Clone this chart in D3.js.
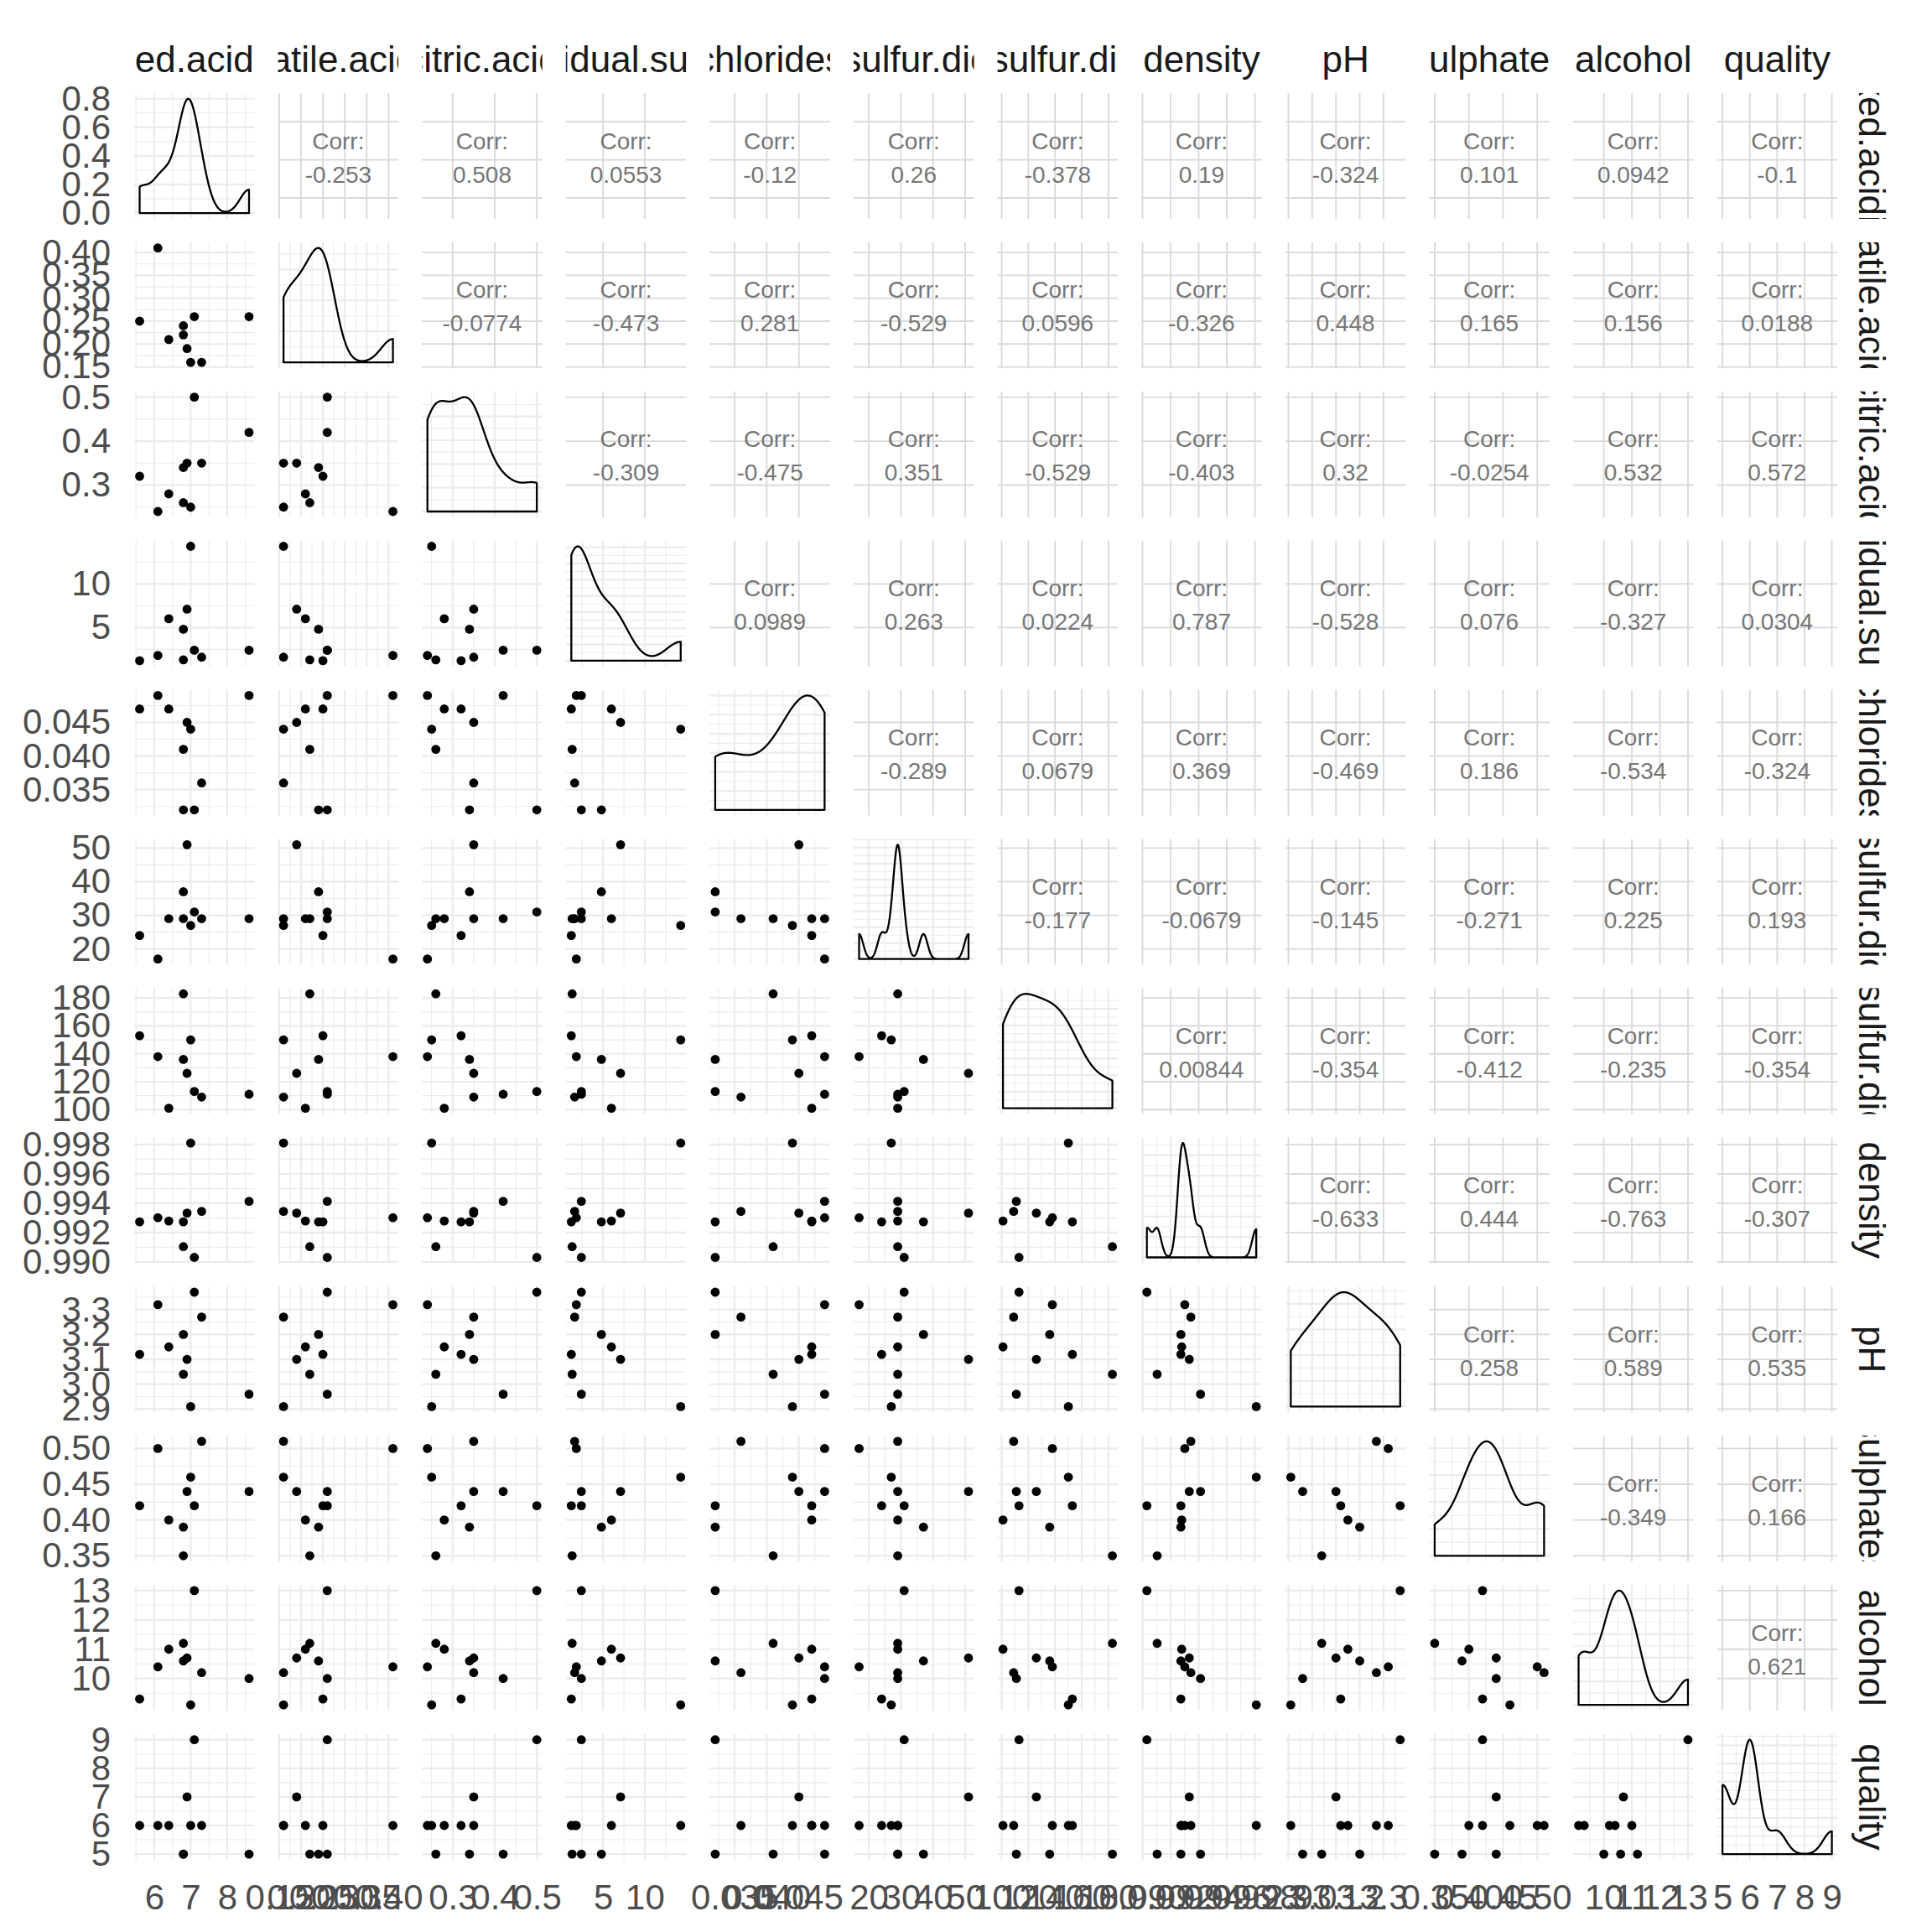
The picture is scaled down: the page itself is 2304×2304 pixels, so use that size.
<!DOCTYPE html>
<html>
<head>
<meta charset="utf-8">
<script src="https://cdn.jsdelivr.net/npm/d3@7"></script>
<style>
  body { margin: 0; background: #fff; }
</style>
</head>
<body>
<div id="chart"></div>
<script>
// variable names, in panel order
const names = ["fixed.acidity", "volatile.acidity", "citric.acid", "residual.sugar", "chlorides",
  "free.sulfur.dioxide", "total.sulfur.dioxide", "density", "pH", "sulphates", "alcohol", "quality"];

const fixedAcidity = [5.6, 6.1, 6.4, 6.8, 6.8, 6.9, 7.0, 7.1, 7.3, 8.6];
const volatileAcidity = [0.25, 0.41, 0.21, 0.24, 0.22, 0.19, 0.16, 0.26, 0.16, 0.26];
const citricAcid = [0.32, 0.24, 0.28, 0.34, 0.26, 0.35, 0.25, 0.50, 0.35, 0.42];
const residualSugar = [1.2, 1.8, 6.0, 4.8, 1.3, 7.1, 14.3, 2.4, 1.6, 2.4];
const chlorides = [0.047, 0.049, 0.047, 0.032, 0.041, 0.045, 0.044, 0.032, 0.036, 0.049];
const freeSulfur = [24, 17, 29, 37, 29, 51, 27, 31, 29, 29];
const totalSulfur = [153, 138, 101, 136, 183, 126, 150, 113, 109, 111];
const density = [0.99273, 0.99301, 0.99279, 0.99273, 0.99104, 0.99333, 0.9981, 0.99031, 0.99344, 0.99413];
const pH = [3.12, 3.32, 3.15, 3.20, 3.04, 3.10, 2.91, 3.37, 3.27, 2.96];
const sulphates = [0.42, 0.50, 0.40, 0.39, 0.35, 0.44, 0.46, 0.42, 0.51, 0.44];
const alcohol = [9.3, 10.4, 11.0, 10.6, 11.2, 10.7, 9.1, 13.0, 10.2, 10.0];
const quality = [6, 6, 6, 5, 5, 7, 6, 9, 6, 5];

// tick labels per variable
const faTicks = ["6", "7", "8"];
const vaTicks = ["0.15", "0.20", "0.25", "0.30", "0.35", "0.40"];
const caTicks = ["0.3", "0.4", "0.5"];
const rsTicks = ["5", "10"];
const chTicks = ["0.035", "0.040", "0.045"];
const fsTicks = ["20", "30", "40", "50"];
const tsTicks = ["100", "120", "140", "160", "180"];
const deTicks = ["0.990", "0.992", "0.994", "0.996", "0.998"];
const phTicks = ["2.9", "3.0", "3.1", "3.2", "3.3"];
const suTicks = ["0.35", "0.40", "0.45", "0.50"];
const alTicks = ["10", "11", "12", "13"];
const quTicks = ["5", "6", "7", "8", "9"];
const densityAxisTicks = ["0.0", "0.2", "0.4", "0.6", "0.8"];

// upper triangle correlation labels, row by row
const corrRow1 = ["-0.253", "0.508", "0.0553", "-0.12", "0.26", "-0.378", "0.19", "-0.324", "0.101", "0.0942", "-0.1"];
const corrRow2 = ["-0.0774", "-0.473", "0.281", "-0.529", "0.0596", "-0.326", "0.448", "0.165", "0.156", "0.0188"];
const corrRow3 = ["-0.309", "-0.475", "0.351", "-0.529", "-0.403", "0.32", "-0.0254", "0.532", "0.572"];
const corrRow4 = ["0.0989", "0.263", "0.0224", "0.787", "-0.528", "0.076", "-0.327", "0.0304"];
const corrRow5 = ["-0.289", "0.0679", "0.369", "-0.469", "0.186", "-0.534", "-0.324"];
const corrRow6 = ["-0.177", "-0.0679", "-0.145", "-0.271", "0.225", "0.193"];
const corrRow7 = ["0.00844", "-0.354", "-0.412", "-0.235", "-0.354"];
const corrRow8 = ["-0.633", "0.444", "-0.763", "-0.307"];
const corrRow9 = ["0.258", "0.589", "0.535"];
const corrRow10 = ["-0.349", "0.166"];
const corrRow11 = ["0.621"];

const series = [fixedAcidity, volatileAcidity, citricAcid, residualSugar, chlorides, freeSulfur,
  totalSulfur, density, pH, sulphates, alcohol, quality];
const tickLabels = [faTicks, vaTicks, caTicks, rsTicks, chTicks, fsTicks, tsTicks, deTicks,
  phTicks, suTicks, alTicks, quTicks];
const corrRows = [corrRow1, corrRow2, corrRow3, corrRow4, corrRow5, corrRow6, corrRow7, corrRow8,
  corrRow9, corrRow10, corrRow11];

const W = 2304, H = 2304;
const left0 = 160, colPitch = 171.6, pw = 143.5;
const top0 = 111, rowPitch = 177.9, ph = 150;
const N = names.length;
const font = "'Liberation Sans', Arial, sans-serif";

const colX = j => left0 + j * colPitch;
const rowY = i => top0 + i * rowPitch;

const svg = d3.select("#chart").append("svg")
  .attr("width", W).attr("height", H)
  .style("background", "#fff");
const defs = svg.append("defs");

// scales, with ggplot's 5% expansion
const xs = series.map((vals, j) => {
  const [mn, mx] = d3.extent(vals);
  const pad = (mx - mn) * 0.05;
  return d3.scaleLinear().domain([mn - pad, mx + pad]).range([colX(j), colX(j) + pw]);
});
const ys = series.map((vals, i) => {
  const [mn, mx] = d3.extent(vals);
  const pad = (mx - mn) * 0.05;
  return d3.scaleLinear().domain([mn - pad, mx + pad]).range([rowY(i) + ph, rowY(i)]);
});

// gaussian kde with R's bw.nrd0
const kde = vals => {
  const n = vals.length;
  const sorted = vals.slice().sort(d3.ascending);
  const sd = d3.deviation(vals);
  const iqr = d3.quantileSorted(sorted, 0.75) - d3.quantileSorted(sorted, 0.25);
  let lo = Math.min(sd, iqr / 1.34);
  if (!(lo > 0)) lo = sd || Math.abs(sorted[0]) || 1;
  const bw = 0.9 * lo * Math.pow(n, -0.2);
  const [mn, mx] = d3.extent(vals);
  return d3.range(512).map(k => {
    const x = mn + (mx - mn) * k / 511;
    const y = d3.mean(vals, v => Math.exp(-0.5 * ((x - v) / bw) ** 2)) / (bw * Math.sqrt(2 * Math.PI));
    return [x, y];
  });
};
const dens = series.map(kde);
const dys = dens.map((d, k) => {
  const mx = d3.max(d, p => p[1]);
  return d3.scaleLinear().domain([-0.05 * mx, 1.05 * mx]).range([rowY(k) + ph, rowY(k)]);
});
const densTicks = dens.map((d, k) => k === 0 ? densityAxisTicks.map(Number)
  : d3.ticks(0, d3.max(d, p => p[1]), 5));

const minorOf = (major, scale) => {
  const [a, b] = scale.domain();
  const step = major[1] - major[0];
  const ext = [major[0] - step, ...major, major[major.length - 1] + step];
  return d3.pairs(ext).map(([p, q]) => (p + q) / 2).filter(v => v >= Math.min(a, b) && v <= Math.max(a, b));
};
const majorOf = k => tickLabels[k].map(Number);

const grid = svg.append("g");
const marks = svg.append("g");

for (let i = 0; i < N; i++) {
  for (let j = 0; j < N; j++) {
    const x0 = colX(j), y0 = rowY(i);
    const g = grid.append("g");
    const xMajor = majorOf(j);
    const yScale = i === j ? dys[i] : ys[i];
    const yMajor = i === j ? densTicks[i] : majorOf(i);
    if (i < j) {
      // correlation panels: major grid only
      g.selectAll(".vx").data(xMajor).join("line")
        .attr("x1", d => xs[j](d)).attr("x2", d => xs[j](d))
        .attr("y1", y0).attr("y2", y0 + ph)
        .attr("stroke", "#D9D9D9").attr("stroke-width", 1.8);
      g.selectAll(".hy").data(yMajor).join("line")
        .attr("x1", x0).attr("x2", x0 + pw)
        .attr("y1", d => yScale(d)).attr("y2", d => yScale(d))
        .attr("stroke", "#D9D9D9").attr("stroke-width", 1.8);
      const cx = x0 + pw / 2, cy = y0 + ph / 2;
      const t = marks.append("g")
        .attr("font-family", font).attr("font-size", 28).attr("fill", "#767676")
        .attr("text-anchor", "middle");
      t.append("text").attr("x", cx).attr("y", cy - 18).attr("dominant-baseline", "central").text("Corr:");
      t.append("text").attr("x", cx).attr("y", cy + 22).attr("dominant-baseline", "central")
        .text(corrRows[i][j - i - 1]);
      continue;
    }
    const xMinor = minorOf(xMajor, xs[j]);
    const yMinor = minorOf(yMajor, yScale);
    g.selectAll(".vm").data(xMinor).join("line")
      .attr("x1", d => xs[j](d)).attr("x2", d => xs[j](d))
      .attr("y1", y0).attr("y2", y0 + ph)
      .attr("stroke", "#EBEBEB").attr("stroke-width", 1.1);
    g.selectAll(".hm").data(yMinor).join("line")
      .attr("x1", x0).attr("x2", x0 + pw)
      .attr("y1", d => yScale(d)).attr("y2", d => yScale(d))
      .attr("stroke", "#EBEBEB").attr("stroke-width", 1.1);
    g.selectAll(".vM").data(xMajor).join("line")
      .attr("x1", d => xs[j](d)).attr("x2", d => xs[j](d))
      .attr("y1", y0).attr("y2", y0 + ph)
      .attr("stroke", "#EBEBEB").attr("stroke-width", 2.2);
    g.selectAll(".hM").data(yMajor).join("line")
      .attr("x1", x0).attr("x2", x0 + pw)
      .attr("y1", d => yScale(d)).attr("y2", d => yScale(d))
      .attr("stroke", "#EBEBEB").attr("stroke-width", 2.2);

    if (i === j) {
      const d = dens[i];
      const pts = [[d[0][0], 0], ...d, [d[d.length - 1][0], 0]];
      const line = d3.line().x(p => xs[j](p[0])).y(p => dys[i](p[1]));
      marks.append("path")
        .attr("d", line(pts) + "Z")
        .attr("fill", "none").attr("stroke", "#000")
        .attr("stroke-width", 2.3).attr("stroke-linejoin", "round");
    } else {
      marks.append("g").selectAll("circle")
        .data(d3.range(series[j].length))
        .join("circle")
        .attr("cx", k => xs[j](series[j][k]))
        .attr("cy", k => ys[i](series[i][k]))
        .attr("r", 5.4)
        .attr("fill", "#000");
    }
  }
}

// left axes
for (let i = 0; i < N; i++) {
  const labels = i === 0 ? densityAxisTicks : tickLabels[i];
  const scale = i === 0 ? dys[0] : ys[i];
  const ax = svg.append("g")
    .attr("transform", `translate(${left0},0)`)
    .call(d3.axisLeft(scale).tickValues(labels.map(Number))
      .tickFormat((d, k) => labels[k]).tickSize(0).tickPadding(28));
  ax.select(".domain").remove();
  ax.attr("font-family", font).attr("font-size", 42).attr("color", "#4D4D4D");
}

// bottom axes
const bottom = rowY(N - 1) + ph;
for (let j = 0; j < N; j++) {
  const labels = tickLabels[j];
  const ax = svg.append("g")
    .attr("transform", `translate(0,${bottom})`)
    .call(d3.axisBottom(xs[j]).tickValues(labels.map(Number))
      .tickFormat((d, k) => labels[k]).tickSize(0).tickPadding(29));
  ax.select(".domain").remove();
  ax.attr("font-family", font).attr("font-size", 42).attr("color", "#4D4D4D");
}

// strips: top (columns) and right (rows), clipped to the panel size
names.forEach((name, k) => {
  defs.append("clipPath").attr("id", `clipTop${k}`)
    .append("rect").attr("x", colX(k)).attr("y", 0).attr("width", pw).attr("height", top0);
  svg.append("g").attr("clip-path", `url(#clipTop${k})`)
    .append("text")
    .attr("x", colX(k) + pw / 2).attr("y", 86)
    .attr("text-anchor", "middle")
    .attr("font-family", font).attr("font-size", 44).attr("fill", "#1A1A1A")
    .text(name);

  defs.append("clipPath").attr("id", `clipRight${k}`)
    .append("rect").attr("x", colX(N - 1) + pw).attr("y", rowY(k)).attr("width", 200).attr("height", ph);
  svg.append("g").attr("clip-path", `url(#clipRight${k})`)
    .append("g").attr("transform", `translate(2217,${rowY(k) + ph / 2}) rotate(90)`)
    .append("text")
    .attr("text-anchor", "middle")
    .attr("font-family", font).attr("font-size", 44).attr("fill", "#1A1A1A")
    .text(name);
});
</script>
</body>
</html>
